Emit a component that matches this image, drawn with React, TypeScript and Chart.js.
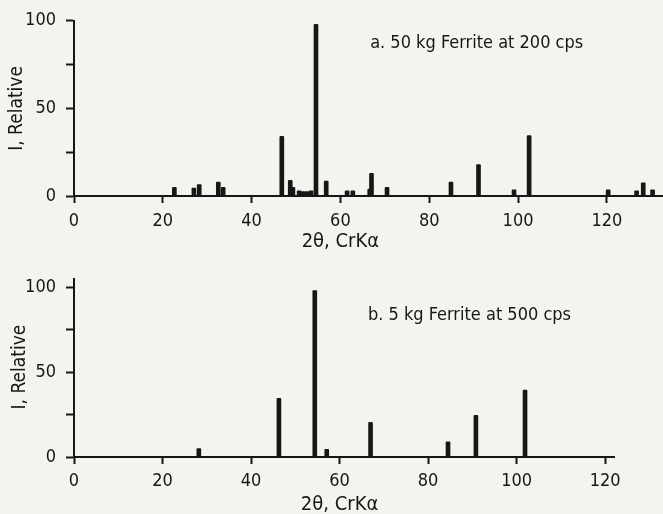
import React, { useEffect, useRef } from 'react';
import { Chart, registerables } from 'chart.js';

Chart.register(...registerables);

const FONT = "'Liberation Sans Narrow', 'DejaVu Sans Condensed', 'Roboto Condensed', sans-serif";
const INK = '#161616';
const PAPER = '#f3f3f0';

// Panel a: 50 kg ferrite at 200 cps
const topAngles = [22.6, 27.0, 28.2, 32.5, 33.6, 46.8, 48.7, 49.3, 50.7, 51.6, 52.5, 53.4, 54.5, 56.8, 61.5, 62.8, 66.6, 67.0, 70.5, 84.9, 91.1, 99.1, 102.5, 120.3, 126.7, 128.2, 130.3];
const topIntensity = [5, 4.5, 6.5, 8, 5, 34, 9, 5, 3, 2.5, 2.5, 3, 98, 8.5, 3, 3, 4, 13, 5, 8, 18, 3.5, 34.5, 3.5, 3, 7.5, 3.5];

// Panel b: 5 kg ferrite at 500 cps
const bottomAngles = [28.2, 46.3, 54.4, 57.1, 67.0, 84.5, 90.8, 101.9];
const bottomIntensity = [5, 34.5, 98, 4.5, 20.5, 9, 24.5, 39.5];

const xTickValues = [0, 20, 40, 60, 80, 100, 120];
const yTickValues = [0, 25, 50, 75, 100];
const yTickLabels = ['0', '', '50', '', '100'];

const topLabel = 'a. 50 kg Ferrite at 200 cps';
const bottomLabel = 'b. 5 kg Ferrite at 500 cps';
const xTitle = '2θ, CrKα';
const yTitle = 'I, Relative';

type PanelProps = {
  angles: number[];
  intensity: number[];
  xMax: number;
  yMax: number;
  label: string;
  labelAt: [number, number];
  width: number;
  height: number;
  padTop: number;
  padRight: number;
  xAxisHeight: number;
  xLabelPad: number;
  xTitleY: number;
  yTitleX: number;
  yTitleCenterValue: number;
};

function Panel(p: PanelProps) {
  const ref = useRef<HTMLCanvasElement | null>(null);
  useEffect(() => {
    if (!ref.current) return;
    const textPlugin = {
      id: 'texts',
      afterDraw(chart: any) {
        const ctx = chart.ctx as CanvasRenderingContext2D;
        const xs = chart.scales.x;
        const ys = chart.scales.y;
        ctx.save();
        ctx.fillStyle = INK;
        // annotation label
        ctx.font = `18px ${FONT}`;
        ctx.textAlign = 'left';
        ctx.textBaseline = 'middle';
        ctx.fillText(p.label, xs.getPixelForValue(p.labelAt[0]), ys.getPixelForValue(p.labelAt[1]));
        // x title
        ctx.textAlign = 'center';
        ctx.font = `20px ${FONT}`;
        ctx.fillText(xTitle, xs.getPixelForValue(60), p.xTitleY);
        // y title
        ctx.translate(p.yTitleX, ys.getPixelForValue(p.yTitleCenterValue));
        ctx.rotate(-Math.PI / 2);
        ctx.font = `19px ${FONT}`;
        ctx.fillText(yTitle, 0, 0);
        ctx.restore();
      },
    };
    const chart = new Chart(ref.current, {
      type: 'bar',
      data: {
        datasets: [
          {
            data: p.angles.map((a, i) => ({ x: a, y: p.intensity[i] })),
            backgroundColor: INK,
            borderWidth: 0,
            barThickness: 4,
            borderRadius: 1,
          },
        ],
      },
      options: {
        responsive: false,
        animation: false,
        devicePixelRatio: 1,
        layout: { padding: { top: p.padTop, right: p.padRight, left: 0, bottom: 0 } },
        plugins: { legend: { display: false }, tooltip: { enabled: false } },
        scales: {
          x: {
            type: 'linear',
            min: 0,
            max: p.xMax,
            offset: false,
            afterBuildTicks: (s: any) => {
              s.ticks = xTickValues.map((v) => ({ value: v }));
            },
            afterFit: (s: any) => {
              s.height = p.xAxisHeight;
            },
            grid: {
              offset: false,
              drawOnChartArea: false,
              drawTicks: true,
              tickLength: 7,
              tickWidth: 2,
              tickColor: INK,
            },
            border: { display: true, color: INK, width: 2 },
            ticks: {
              color: INK,
              font: { family: FONT, size: 18 },
              padding: p.xLabelPad,
              maxRotation: 0,
              autoSkip: false,
              callback: (v: any) => String(v),
            },
          },
          y: {
            type: 'linear',
            min: 0,
            max: p.yMax,
            afterBuildTicks: (s: any) => {
              s.ticks = yTickValues.map((v) => ({ value: v }));
            },
            afterFit: (s: any) => {
              s.width = 74;
            },
            grid: {
              drawOnChartArea: false,
              drawTicks: true,
              tickLength: 8,
              tickWidth: 2,
              tickColor: INK,
            },
            border: { display: true, color: INK, width: 2 },
            ticks: {
              color: INK,
              font: { family: FONT, size: 18 },
              padding: 10,
              autoSkip: false,
              callback: (v: any) => {
                const i = yTickValues.indexOf(Number(v));
                return i >= 0 ? yTickLabels[i] : '';
              },
            },
          },
        },
      },
      plugins: [textPlugin],
    } as any);
    return () => chart.destroy();
  }, []);
  return <canvas ref={ref} width={p.width} height={p.height} style={{ display: 'block', width: p.width, height: p.height }} />;
}

export default function App() {
  return (
    <div style={{ position: 'absolute', left: 0, top: 0, width: 663, height: 514, background: PAPER, overflow: 'hidden' }}>
      <div style={{ position: 'absolute', left: 0, top: 0 }}>
        <Panel
          angles={topAngles}
          intensity={topIntensity}
          xMax={132.65}
          yMax={100}
          label={topLabel}
          labelAt={[66.7, 87]}
          width={663}
          height={258}
          padTop={19}
          padRight={0}
          xAxisHeight={62}
          xLabelPad={8}
          xTitleY={242}
          yTitleX={17}
          yTitleCenterValue={50}
        />
      </div>
      <div style={{ position: 'absolute', left: 0, top: 258 }}>
        <Panel
          angles={bottomAngles}
          intensity={bottomIntensity}
          xMax={122}
          yMax={105}
          label={bottomLabel}
          labelAt={[66.4, 83.7]}
          width={663}
          height={256}
          padTop={12}
          padRight={49}
          xAxisHeight={57}
          xLabelPad={7}
          xTitleY={247}
          yTitleX={20}
          yTitleCenterValue={53}
        />
      </div>
    </div>
  );
}
